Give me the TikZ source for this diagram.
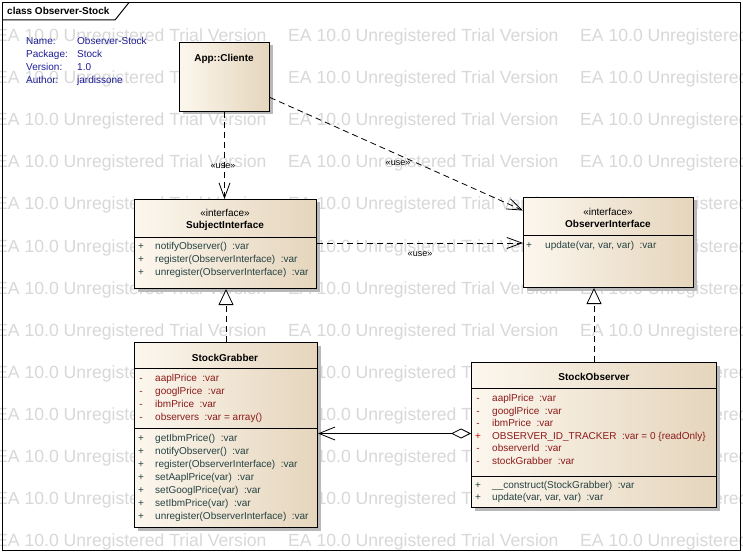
\documentclass[tikz,border=0pt]{standalone}
\usepackage{fontspec}
\setmainfont{Liberation Sans}
\usetikzlibrary{arrows.meta,shadows,calc}
\definecolor{clsL}{RGB}{252,247,238}
\definecolor{clsR}{RGB}{229,213,188}
\definecolor{attrC}{RGB}{140,26,26}
\definecolor{opC}{RGB}{38,66,66}
\definecolor{redP}{RGB}{204,0,0}
\definecolor{metaC}{RGB}{30,30,150}
\definecolor{wmC}{RGB}{216,216,216}
\begin{document}
\begin{tikzpicture}[x=1pt,y=-1pt,
  wm/.style={anchor=base west, inner sep=0pt, text=wmC, font=\fontsize{17.6}{20}\selectfont},
  cls/.style={draw=black, line width=1pt, left color=clsL, right color=clsR, anchor=north west, inner sep=0pt,
    drop shadow={shadow xshift=3pt, shadow yshift=-3pt, fill=black!28, opacity=1}},
  sep/.style={line width=1pt},
  mem/.style={anchor=base west, inner sep=0pt, font=\fontsize{10}{12}\selectfont},
  attr/.style={mem, text=attrC},
  op/.style={mem, text=opC},
  vis/.style={anchor=base, inner sep=0pt, font=\fontsize{10}{12}\selectfont},
  ttl/.style={anchor=base, inner sep=0pt, font=\bfseries\fontsize{10}{12}\selectfont},
  stereo/.style={anchor=base, inner sep=0pt, font=\fontsize{10}{12}\selectfont},
  meta/.style={anchor=base west, inner sep=0pt, text=metaC, font=\fontsize{10}{12}\selectfont},
  lbl/.style={inner sep=0pt, font=\fontsize{9}{11}\selectfont},
  usedep/.style={draw, line width=0.8pt, dash pattern=on 6pt off 4pt, -{Straight Barb[length=15pt,width=11pt]}},
  realz/.style={draw, line width=0.8pt, dash pattern=on 6pt off 4pt, -{Triangle[length=16pt,width=15pt,fill=white]}},
  aggr/.style={draw, line width=0.8pt, {Diamond[length=20pt,width=10pt,fill=white]}-{Straight Barb[length=16pt,width=13pt]}}
]
\useasboundingbox (0,0) rectangle (743,553);
\fill[white] (0,0) rectangle (743,553);
% watermark
\begin{scope}
\clip (0,0) rectangle (743,553);
\foreach \r in {0,...,12}{\foreach \c in {0,1,2}{
  \node[wm] (wm-\r-\c) at (-4+292*\c, 42+42*\r) {EA 10.0 Unregistered Trial Version};}}
\end{scope}
% frame
\draw[line width=1pt] (2.5,2.5) rectangle (740.5,550.5);
\draw[line width=1pt] (2.5,20) -- (115,20) -- (129,2.5);
\node[anchor=base west, inner sep=0pt, font=\bfseries\fontsize{10}{12}\selectfont] (title) at (7,15) {class Observer-Stock};
% metadata
\node[meta] (mk1) at (26,45) {Name:};
\node[meta] (mk2) at (26,58) {Package:};
\node[meta] (mk3) at (26,71) {Version:};
\node[meta] (mk4) at (26,83.5) {Author:};
\node[meta] (mv1) at (77,45) {Observer-Stock};
\node[meta] (mv2) at (77,58) {Stock};
\node[meta] (mv3) at (77,71) {1.0};
\node[meta] (mv4) at (77,83.5) {jardissone};

% App::Cliente
\node[cls, minimum width=90pt, minimum height=69pt] (app) at (179,42) {};
\node[ttl] (app-n) at (224,62) {App::Cliente};

% SubjectInterface
\node[cls, minimum width=182pt, minimum height=89pt] (si) at (134,199) {};
\node[stereo] (si-s) at (225,216) {«interface»};
\node[ttl] (si-n) at (225,228) {SubjectInterface};
\draw[sep] ([yshift=-38pt]si.north west) -- ([yshift=-38pt]si.north east);
\node[vis, text=opC] (si-p1) at (141,249.5) {+};
\node[vis, text=opC] (si-p2) at (141,262.5) {+};
\node[vis, text=opC] (si-p3) at (141,275.5) {+};
\node[op] (si-o1) at (155,249.5) {notifyObserver()~~:var};
\node[op] (si-o2) at (155,262.5) {register(ObserverInterface)~~:var};
\node[op] (si-o3) at (155,275.5) {unregister(ObserverInterface)~~:var};

% ObserverInterface
\node[cls, minimum width=170pt, minimum height=90pt] (oi) at (523,197) {};
\node[stereo] (oi-s) at (608,215) {«interface»};
\node[ttl] (oi-n) at (608,227) {ObserverInterface};
\draw[sep] ([yshift=-38pt]oi.north west) -- ([yshift=-38pt]oi.north east);
\node[vis, text=opC] (oi-p1) at (529,248.5) {+};
\node[op] (oi-o1) at (545,248.5) {update(var, var, var)~~:var};

% StockGrabber
\node[cls, minimum width=183pt, minimum height=185pt] (sg) at (134,342) {};
\node[ttl] (sg-n) at (225,361) {StockGrabber};
\draw[sep] ([yshift=-26pt]sg.north west) -- ([yshift=-26pt]sg.north east);
\draw[sep] ([yshift=-86pt]sg.north west) -- ([yshift=-86pt]sg.north east);
\foreach \i/\t in {0/aaplPrice~~:var, 1/googlPrice~~:var, 2/ibmPrice~~:var, 3/observers~~:var = array()}{
  \node[vis, text=attrC] (sg-am\i) at (141,381.5+13*\i) {-};
  \node[attr] (sg-a\i) at (155,381.5+13*\i) {\t};}
\foreach \i/\t in {0/getIbmPrice()~~:var, 1/notifyObserver()~~:var, 2/register(ObserverInterface)~~:var,
  3/setAaplPrice(var)~~:var, 4/setGooglPrice(var)~~:var, 5/setIbmPrice(var)~~:var, 6/unregister(ObserverInterface)~~:var}{
  \node[vis, text=opC] (sg-om\i) at (141,441.5+13*\i) {+};
  \node[op] (sg-o\i) at (155,441.5+13*\i) {\t};}

% StockObserver
\node[cls, minimum width=245pt, minimum height=145pt] (so) at (471,362) {};
\node[ttl] (so-n) at (594,380) {StockObserver};
\draw[sep] ([yshift=-26pt]so.north west) -- ([yshift=-26pt]so.north east);
\draw[sep] ([yshift=-114pt]so.north west) -- ([yshift=-114pt]so.north east);
\foreach \i/\t in {0/aaplPrice~~:var, 1/googlPrice~~:var, 2/ibmPrice~~:var, 4/observerId~~:var, 5/stockGrabber~~:var}{
  \node[vis, text=attrC] (so-am\i) at (478,401.5+12.6*\i) {-};
  \node[attr] (so-a\i) at (492,401.5+12.6*\i) {\t};}
\node[vis, text=redP] (so-am3) at (478,439.3) {+};
\node[attr] (so-a3) at (492,439.3) {OBSERVER\_ID\_TRACKER~~:var = 0 \{readOnly\}};
\node[vis, text=opC] (so-om0) at (478,488.5) {+};
\node[op] (so-o0) at (492,488.5) {\_\_construct(StockGrabber)~~:var};
\node[vis, text=opC] (so-om1) at (478,500) {+};
\node[op] (so-o1) at (492,500) {update(var, var, var)~~:var};

% connectors
\draw[usedep] (app.south) -- (app.south |- si.north);
\node[lbl] (l1) at (223,166) {«use»};
\draw[usedep] ([yshift=14.5pt]app.south east) -- ([yshift=-13.5pt]oi.north west);
\node[lbl] (l2) at (398,163) {«use»};
\draw[usedep] ([yshift=-44pt]si.north east) coordinate (h1) -- (h1 -| oi.west);
\node[lbl] (l3) at (420,254) {«use»};
\draw[realz] (sg.north) -- (sg.north |- si.south);
\draw[realz] (so.north) -- (so.north |- oi.south);
\draw[aggr] ([yshift=1.5pt]so.west) coordinate (a1) -- (a1 -| sg.east);
\end{tikzpicture}
\end{document}
